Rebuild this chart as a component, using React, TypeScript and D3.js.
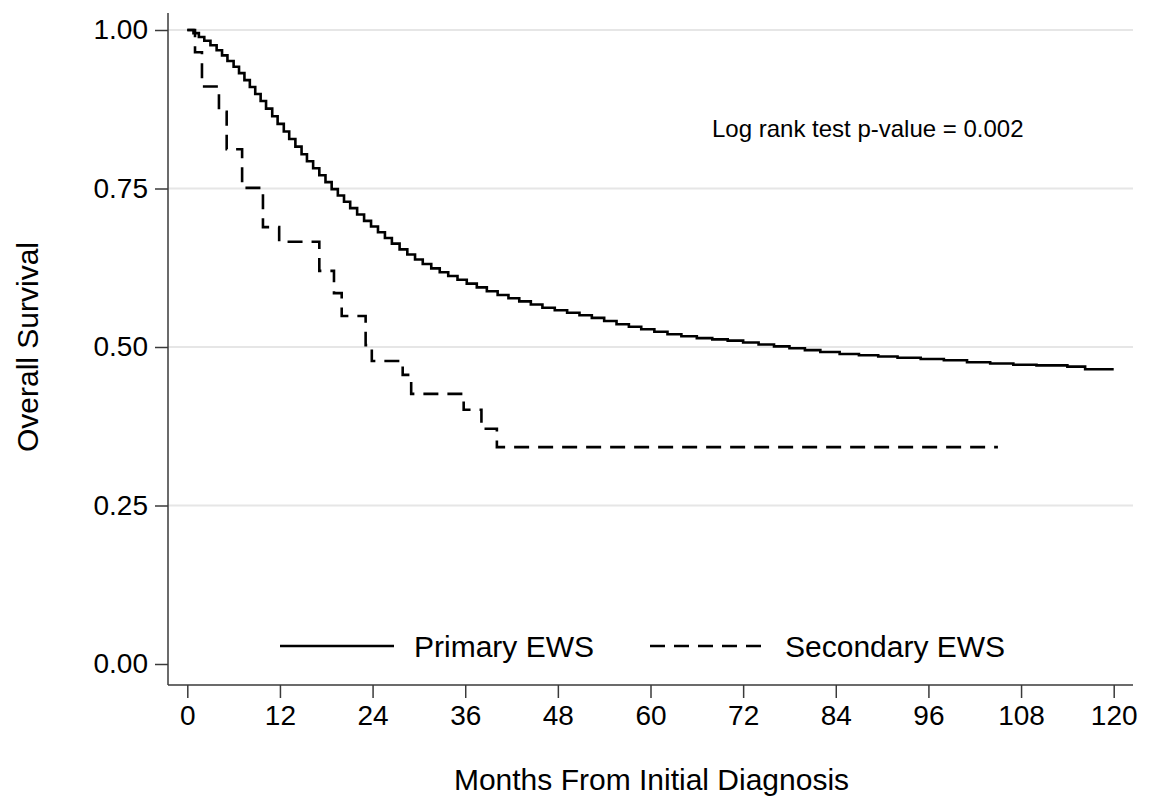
import * as d3 from "d3";
import { useEffect, useRef } from "react";

// Kaplan-Meier step points (months, survival)
const primaryTime = [
  0, 0.8, 1.5, 2.2, 3.0, 3.8, 4.5, 5.2, 6.0, 6.7, 7.4, 8.1, 8.8, 9.5, 10.2, 11.0,
  11.7, 12.5, 13.2, 14.0, 14.8, 15.5, 16.3, 17.1, 17.9, 18.7, 19.5, 20.3, 21.1,
  22.0, 22.9, 23.8, 24.7, 25.6, 26.5, 27.5, 28.5, 29.5, 30.5, 31.6, 32.7, 33.8,
  35.0, 36.2, 37.5, 38.8, 40.2, 41.6, 43.0, 44.5, 46.0, 47.6, 49.2, 50.8, 52.4,
  54.0, 55.6, 57.2, 58.8, 60.5, 62.2, 64.0, 66.0, 68.0, 70.0, 72.0, 74.0, 76.0,
  78.0, 80.0, 82.0, 84.5, 87.0, 89.5, 92.0, 95.0, 98.0, 101.0, 104.0, 107.0,
  110.0, 114.0, 116.3, 120.0,
];
const primarySurv = [
  1.0, 0.995, 0.989, 0.983, 0.976, 0.968, 0.96, 0.951, 0.942, 0.932, 0.921, 0.91,
  0.899, 0.888, 0.876, 0.864, 0.852, 0.84, 0.828, 0.816, 0.804, 0.793, 0.782,
  0.771, 0.76, 0.749, 0.739, 0.729, 0.719, 0.709, 0.699, 0.69, 0.681, 0.672,
  0.663, 0.654, 0.646, 0.638, 0.631, 0.624, 0.618, 0.612, 0.606, 0.6, 0.594,
  0.588, 0.582, 0.577, 0.572, 0.567, 0.562, 0.558, 0.554, 0.55, 0.546, 0.541,
  0.536, 0.532, 0.528, 0.524, 0.52, 0.517, 0.514, 0.512, 0.51, 0.507, 0.504,
  0.501, 0.498, 0.495, 0.492, 0.489, 0.487, 0.485, 0.483, 0.481, 0.479, 0.476,
  0.474, 0.472, 0.471, 0.469, 0.465, 0.465,
];

const secondaryTime = [
  0, 1.0, 1.9, 4.1, 5.1, 7.1, 9.8, 11.9, 17.1, 19.0, 20.0, 23.1, 23.9, 27.9, 29.0,
  35.8, 38.1, 40.1, 105.0,
];
const secondarySurv = [
  1.0, 0.965, 0.911, 0.871, 0.812, 0.751, 0.689, 0.666, 0.62, 0.585, 0.549,
  0.503, 0.478, 0.456, 0.426, 0.401, 0.371, 0.342, 0.342,
];

const xTicks = [0, 12, 24, 36, 48, 60, 72, 84, 96, 108, 120];
const yTicks = [0, 0.25, 0.5, 0.75, 1.0];

const seriesNames = ["Primary EWS", "Secondary EWS"];
const annotation = "Log rank test p-value = 0.002";

const FONT = "'Liberation Sans', Arial, Helvetica, sans-serif";
const AXIS_COLOR = "#3a3a3a";
const GRID_COLOR = "#e6e6e6";

const App = () => {
  const svgRef = useRef<SVGSVGElement | null>(null);

  useEffect(() => {
    const width = 1154;
    const height = 802;
    const plotLeft = 168;
    const plotRight = 1133;
    const plotTop = 13;
    const plotBottom = 685;

    const svg = d3.select(svgRef.current);
    svg.selectAll("*").remove();
    svg.attr("width", width).attr("height", height);

    svg
      .append("rect")
      .attr("width", width)
      .attr("height", height)
      .attr("fill", "#fff");

    const x = d3.scaleLinear().domain([0, 120]).range([187.3, 1113.7]);
    const y = d3.scaleLinear().domain([0, 1]).range([664, 30]);

    // gridlines
    svg
      .append("g")
      .selectAll("line")
      .data(yTicks.filter((d) => d > 0))
      .enter()
      .append("line")
      .attr("x1", plotLeft)
      .attr("x2", plotRight)
      .attr("y1", (d) => y(d))
      .attr("y2", (d) => y(d))
      .attr("stroke", GRID_COLOR)
      .attr("stroke-width", 2);

    // y axis
    const yAxis = d3
      .axisLeft(y)
      .tickValues(yTicks)
      .tickFormat(d3.format(".2f"))
      .tickSize(13)
      .tickPadding(7)
      .tickSizeOuter(0);
    const gy = svg
      .append("g")
      .attr("transform", `translate(${plotLeft},0)`)
      .call(yAxis);
    gy.select(".domain").remove();
    gy.selectAll("line").attr("stroke", AXIS_COLOR).attr("stroke-width", 1.5);
    gy.selectAll("text")
      .attr("font-family", FONT)
      .attr("font-size", 28)
      .attr("fill", "#000");
    svg
      .append("line")
      .attr("x1", plotLeft)
      .attr("x2", plotLeft)
      .attr("y1", plotTop)
      .attr("y2", plotBottom)
      .attr("stroke", AXIS_COLOR)
      .attr("stroke-width", 1.5);

    // x axis
    const xAxis = d3
      .axisBottom(x)
      .tickValues(xTicks)
      .tickFormat(d3.format("d"))
      .tickSize(13)
      .tickPadding(7)
      .tickSizeOuter(0);
    const gx = svg
      .append("g")
      .attr("transform", `translate(0,${plotBottom})`)
      .call(xAxis);
    gx.select(".domain").remove();
    gx.selectAll("line").attr("stroke", AXIS_COLOR).attr("stroke-width", 1.5);
    gx.selectAll("text")
      .attr("font-family", FONT)
      .attr("font-size", 28)
      .attr("fill", "#000");
    svg
      .append("line")
      .attr("x1", plotLeft)
      .attr("x2", plotRight)
      .attr("y1", plotBottom)
      .attr("y2", plotBottom)
      .attr("stroke", AXIS_COLOR)
      .attr("stroke-width", 1.5);

    // axis titles
    svg
      .append("text")
      .attr("x", (plotLeft + plotRight) / 2 + 1)
      .attr("y", 790)
      .attr("text-anchor", "middle")
      .attr("font-family", FONT)
      .attr("font-size", 30)
      .attr("fill", "#000")
      .text("Months From Initial Diagnosis");

    svg
      .append("text")
      .attr("transform", `translate(38,347) rotate(-90)`)
      .attr("text-anchor", "middle")
      .attr("font-family", FONT)
      .attr("font-size", 30)
      .attr("fill", "#000")
      .text("Overall Survival");

    // survival curves
    const line = d3
      .line<[number, number]>()
      .x((d) => x(d[0]))
      .y((d) => y(d[1]))
      .curve(d3.curveStepAfter);

    const primary = primaryTime.map((t, i) => [t, primarySurv[i]] as [number, number]);
    const secondary = secondaryTime.map(
      (t, i) => [t, secondarySurv[i]] as [number, number]
    );

    svg
      .append("path")
      .attr("d", line(secondary))
      .attr("fill", "none")
      .attr("stroke", "#000")
      .attr("stroke-width", 2.6)
      .attr("stroke-dasharray", "15,9");

    svg
      .append("path")
      .attr("d", line(primary))
      .attr("fill", "none")
      .attr("stroke", "#000")
      .attr("stroke-width", 2.6);

    // annotation
    svg
      .append("text")
      .attr("x", 712)
      .attr("y", 137)
      .attr("font-family", FONT)
      .attr("font-size", 24)
      .attr("fill", "#000")
      .text(annotation);

    // legend
    const legendY = 646;
    const legend = svg.append("g");
    legend
      .append("line")
      .attr("x1", 280)
      .attr("x2", 394)
      .attr("y1", legendY)
      .attr("y2", legendY)
      .attr("stroke", "#000")
      .attr("stroke-width", 2.6);
    legend
      .append("text")
      .attr("x", 414)
      .attr("y", 657)
      .attr("font-family", FONT)
      .attr("font-size", 30)
      .attr("fill", "#000")
      .text(seriesNames[0]);
    legend
      .append("line")
      .attr("x1", 650)
      .attr("x2", 766)
      .attr("y1", legendY)
      .attr("y2", legendY)
      .attr("stroke", "#000")
      .attr("stroke-width", 2.6)
      .attr("stroke-dasharray", "15,9");
    legend
      .append("text")
      .attr("x", 785)
      .attr("y", 657)
      .attr("font-family", FONT)
      .attr("font-size", 30)
      .attr("fill", "#000")
      .text(seriesNames[1]);
  }, []);

  return (
    <svg
      ref={svgRef}
      style={{ position: "absolute", left: 0, top: 0, display: "block" }}
    />
  );
};

export default App;
